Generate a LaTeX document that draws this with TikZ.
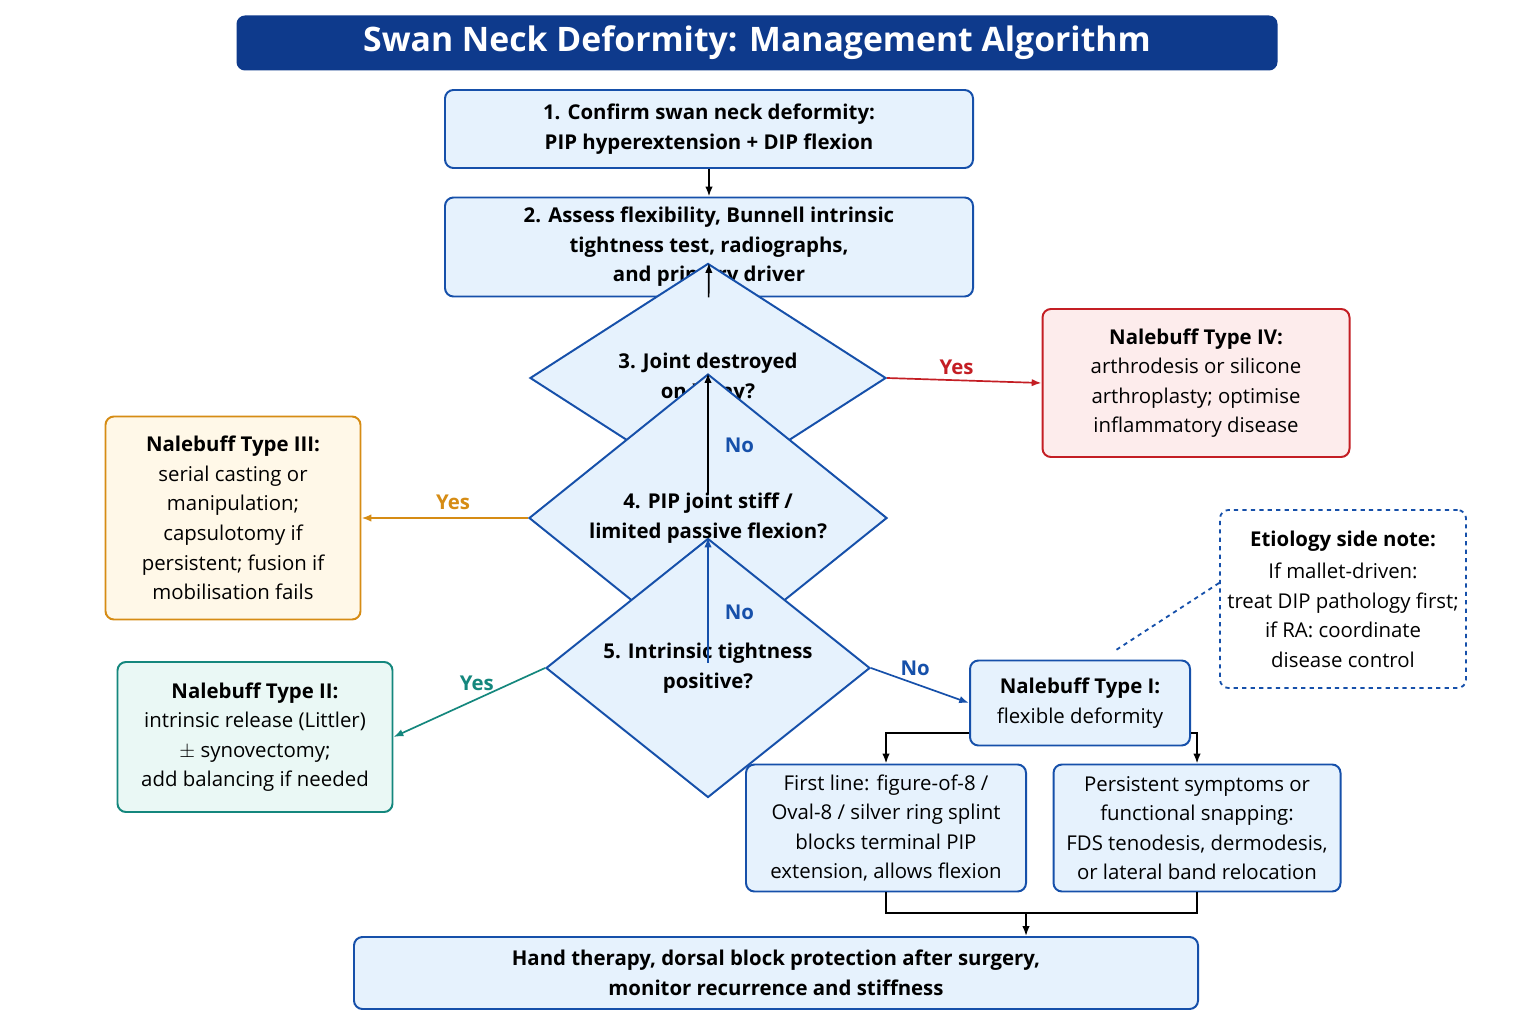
\documentclass[tikz,border=0pt]{standalone}
\usepackage{fontspec}
\setmainfont{Open Sans}
\usetikzlibrary{shapes.geometric,arrows.meta}
\definecolor{navy}{RGB}{14,58,140}
\definecolor{boxblue}{RGB}{22,80,170}
\definecolor{fillblue}{RGB}{230,242,253}
\definecolor{redline}{RGB}{196,30,36}
\definecolor{redfill}{RGB}{253,236,236}
\definecolor{orangeline}{RGB}{214,140,20}
\definecolor{orangefill}{RGB}{255,248,232}
\definecolor{tealline}{RGB}{20,135,125}
\definecolor{tealfill}{RGB}{234,248,245}
\begin{document}
\begin{tikzpicture}[x=0.025cm,y=-0.025cm,
  every node/.style={font=\fontsize{14.5}{21}\selectfont, align=center},
  box/.style={draw=boxblue, line width=1.4pt, fill=fillblue, rounded corners=6pt, inner sep=2pt},
  dia/.style={diamond, draw=boxblue, line width=1.4pt, fill=fillblue, inner sep=0pt},
  link/.style={-{Latex[length=7pt]}, line width=1.2pt},
  lab/.style={font=\fontsize{14.5}{17}\selectfont\bfseries}
]
\useasboundingbox (0,0) rectangle (1536,1024);
\fill[white] (0,0) rectangle (1536,1024);

% title
\node[fill=navy, rounded corners=6pt, minimum width=1041*0.025cm, minimum height=55*0.025cm,
  text=white, font=\fontsize{24}{28}\selectfont\bfseries] (title) at (757,43)
  {Swan Neck Deformity: Management Algorithm};

% main column
\node[box, minimum width=528*0.025cm, minimum height=78*0.025cm] (confirm) at (709,129)
  {\textbf{1. Confirm swan neck deformity:}\\\textbf{PIP hyperextension + DIP flexion}};
\node[box, minimum width=528*0.025cm, minimum height=99*0.025cm] (assess) at (709,247)
  {\textbf{2. Assess flexibility, Bunnell intrinsic}\\\textbf{tightness test, radiographs,}\\\textbf{and primary driver}};
\node[dia, minimum width=356*0.025cm, minimum height=116*0.025cm] (joint) at (708,378)
  {\textbf{3. Joint destroyed}\\\textbf{on X-ray?}};
\node[dia, minimum width=358*0.025cm, minimum height=118*0.025cm] (stiff) at (708,518)
  {\textbf{4. PIP joint stiff /}\\\textbf{limited passive flexion?}};
\node[dia, minimum width=324*0.025cm, minimum height=126*0.025cm] (intr) at (708,668)
  {\textbf{5. Intrinsic tightness}\\\textbf{positive?}};

% outcomes
\node[box, draw=redline, fill=redfill, minimum width=307*0.025cm, minimum height=148*0.025cm] (typeIV) at (1196,383)
  {\textbf{Nalebuff Type IV:}\\arthrodesis or silicone\\arthroplasty; optimise\\inflammatory disease};
\node[box, draw=orangeline, fill=orangefill, minimum width=255*0.025cm, minimum height=203*0.025cm] (typeIII) at (233,518)
  {\textbf{Nalebuff Type III:}\\serial casting or\\manipulation;\\capsulotomy if\\persistent; fusion if\\mobilisation fails};
\node[box, draw=tealline, fill=tealfill, minimum width=275*0.025cm, minimum height=150*0.025cm] (typeII) at (255,737)
  {\textbf{Nalebuff Type II:}\\intrinsic release (Littler)\\$\pm$ synovectomy;\\add balancing if needed};
\node[box, minimum width=220*0.025cm, minimum height=85*0.025cm] (typeI) at (1080,703)
  {\textbf{Nalebuff Type I:}\\flexible deformity};
\node[draw=boxblue, dashed, line width=1.3pt, rounded corners=6pt, fill=white,
  minimum width=246*0.025cm, minimum height=178*0.025cm] (note) at (1343,599)
  {\textbf{Etiology side note:}\\[2pt]If mallet-driven:\\treat DIP pathology first;\\if RA: coordinate\\disease control};
\node[box, minimum width=280*0.025cm, minimum height=127*0.025cm] (splint) at (886,828)
  {First line: figure-of-8 /\\Oval-8 / silver ring splint\\blocks terminal PIP\\extension, allows flexion};
\node[box, minimum width=287*0.025cm, minimum height=127*0.025cm] (surg) at (1197,828)
  {Persistent symptoms or\\functional snapping:\\FDS tenodesis, dermodesis,\\or lateral band relocation};
\node[box, minimum width=844*0.025cm, minimum height=72*0.025cm] (therapy) at (776,973)
  {\textbf{Hand therapy, dorsal block protection after surgery,}\\\textbf{monitor recurrence and stiffness}};

% connectors
\draw[link] (confirm) -- (assess);
\draw[link] (assess) -- (joint);
\draw[link, redline] (joint.east) -- (typeIV.west) node[lab, pos=0.45, above] {Yes};
\draw[link] (joint.south) -- (stiff.north) node[lab, text=boxblue, pos=0.4, right=8pt] {No};
\draw[link, orangeline] (stiff.west) -- (typeIII.east) node[lab, pos=0.45, above=2pt] {Yes};
\draw[link, boxblue] (stiff.south) -- (intr.north) node[lab, pos=0.4, right=8pt] {No};
\draw[link, tealline] (intr.west) -- (typeII.east) node[lab, pos=0.45, above=2pt] {Yes};
\draw[link, boxblue] (intr.east) -- (typeI.west) node[lab, pos=0.45, above=2pt] {No};
\draw[link] (typeI.west |- 0,733) -| (splint.north);
\draw[link] (typeI.east |- 0,733) -| (surg.north);
\coordinate (join) at (1026,913);
\draw[line width=1.2pt] (splint.south) |- (join) -| (surg.south);
\draw[link] (join) -- (join |- therapy.north);
\draw[boxblue, dashed, line width=1.3pt] (note.west |- 0,583) -- (1113,652);
\end{tikzpicture}
\end{document}
